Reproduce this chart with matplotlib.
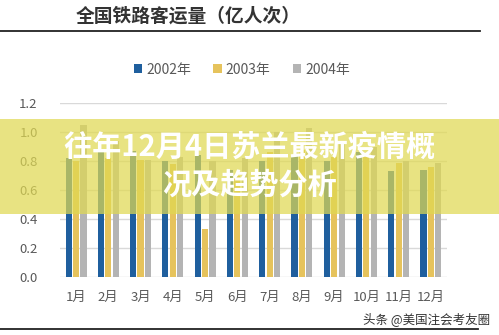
import matplotlib
matplotlib.use("Agg")
import matplotlib.pyplot as plt
from matplotlib.patches import Rectangle
from matplotlib.lines import Line2D
import numpy as np

plt.rcParams['font.family'] = ['Noto Sans CJK SC', 'DejaVu Sans']

months = ['1月', '2月', '3月', '4月', '5月', '6月', '7月', '8月', '9月', '10月', '11月', '12月']
y2002 = [0.82, 0.86, 0.87, 0.80, 0.84, 0.74, 0.80, 0.84, 0.80, 0.86, 0.73, 0.74]
y2003 = [0.80, 0.82, 0.81, 0.78, 0.33, 0.70, 0.86, 0.88, 0.83, 0.83, 0.79, 0.76]
y2004 = [1.05, 0.94, 0.81, 0.83, 0.80, 0.82, 1.00, 1.03, 0.92, 0.90, 0.80, 0.79]
series = [('2002年', y2002, '#1f5f9e'), ('2003年', y2003, '#e6c35c'), ('2004年', y2004, '#b4b4b4')]
yticks = [0.0, 0.2, 0.4, 0.6, 0.8, 1.0, 1.2]

fig = plt.figure(figsize=(4.99, 3.35), dpi=100)
ax = fig.add_axes([0.120, 0.173, 0.776, 0.519])

x = np.arange(len(months))
w = 0.19
offs = [-0.23, 0.0, 0.23]
for (name, vals, col), o in zip(series, offs):
    ax.bar(x + o, vals, width=w, color=col, label=name, zorder=2)

ax.set_xlim(-0.5, 11.5)
ax.set_ylim(0, 1.2)
ax.set_yticks(yticks)
ax.set_yticklabels(['%.1f' % t for t in yticks])
ax.set_xticks(x)
ax.set_xticklabels(months)
ax.tick_params(axis='both', length=0, labelsize=9.5, colors='#595959')
ax.tick_params(axis='y', pad=16)
ax.tick_params(axis='x', pad=10)
ax.grid(axis='y', color='#d9d9d9', linewidth=1, zorder=0)
for s in ax.spines.values():
    s.set_visible(False)

leg = ax.legend(loc='lower center', bbox_to_anchor=(0.47, 1.08), ncol=3, frameon=False,
                fontsize=10, handlelength=0.6, handleheight=0.6, handletextpad=0.3,
                columnspacing=1.6)
for t in leg.get_texts():
    t.set_color('#595959')

# title and rules
fig.text(0.377, 0.953, '全国铁路客运量（亿人次）', fontsize=13.5, fontweight='bold',
         color='#333333', ha='center', va='center')
fig.add_artist(Line2D([0, 0.962], [0.907, 0.907], color='#222222', linewidth=1.3))
fig.add_artist(Line2D([0, 0.958], [0.018, 0.018], color='#222222', linewidth=1.3))

# overlay band
fig.add_artist(Rectangle((0, 0.361), 1, 0.284, transform=fig.transFigure,
                         facecolor=(0.88, 0.85, 0.32), alpha=0.72, edgecolor='none', zorder=5))
fig.text(0.5, 0.561, '往年12月4日苏兰最新疫情概', fontsize=21, fontweight='bold',
         color='white', ha='center', va='center', zorder=6)
fig.text(0.5, 0.448, '况及趋势分析', fontsize=21, fontweight='bold',
         color='white', ha='center', va='center', zorder=6)

fig.text(0.855, 0.048, '头条 @美国注会考友圈', fontsize=9, color='#333333',
         ha='center', va='center', zorder=6)

fig.savefig('out.png', dpi=100)
